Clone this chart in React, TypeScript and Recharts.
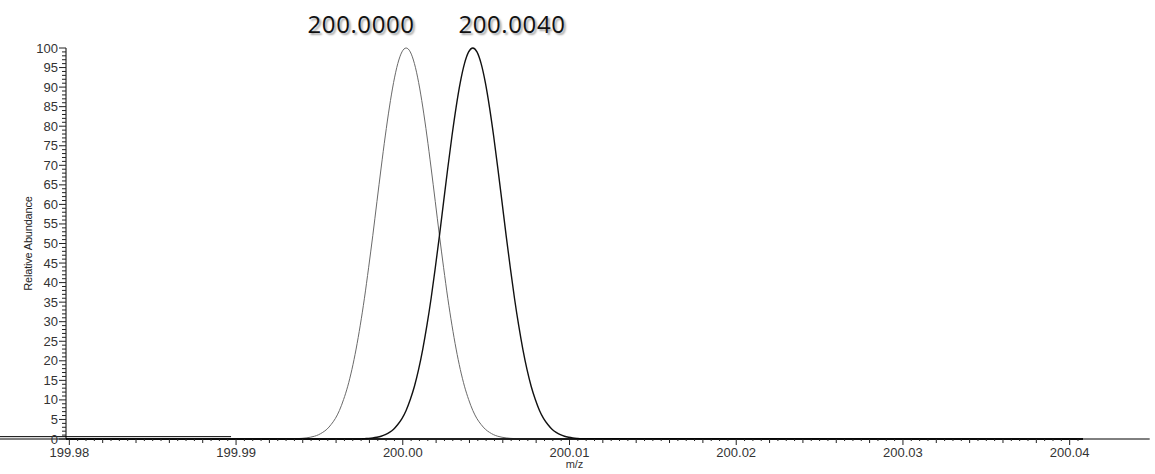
import { LineChart, Line, XAxis, YAxis, ReferenceLine, ReferenceDot } from "recharts";

// m/z sampling points read across the two peaks (outer points are baseline)
const mz = [
  199.9798,
  199.9937, 199.99395, 199.9942, 199.99445, 199.9947, 199.99495, 199.9952, 199.99545,
  199.9957, 199.99595, 199.9962, 199.99645, 199.9967, 199.99695, 199.9972, 199.99745,
  199.9977, 199.99795, 199.9982, 199.99845, 199.9987, 199.99895, 199.9992, 199.99945,
  199.9997, 199.99995, 200.0002, 200.00045, 200.0007, 200.00095, 200.0012, 200.00145,
  200.0017, 200.00195, 200.0022, 200.00245, 200.0027, 200.00295, 200.0032, 200.00345,
  200.0037, 200.00395, 200.0042, 200.00445, 200.0047, 200.00495, 200.0052, 200.00545,
  200.0057, 200.00595, 200.0062, 200.00645, 200.0067, 200.00695, 200.0072, 200.00745,
  200.0077, 200.00795, 200.0082, 200.00845, 200.0087, 200.00895, 200.0092, 200.00945,
  200.0097, 200.00995, 200.0102, 200.01045, 200.0107,
  200.0408,
];

// relative abundance of the 200.0000 peak (grey trace)
const peakA = [
  0,
  0.1, 0.17, 0.28, 0.45, 0.7, 1.1, 1.7, 2.5, 3.7, 5.2, 7.3, 10.1, 13.5, 17.8, 23.0, 29.1,
  36.0, 43.8, 52.0, 60.7, 69.3, 77.5, 84.9, 91.2, 96.0, 99.0, 100, 99.0, 96.0, 91.2,
  84.9, 77.5, 69.3, 60.7, 52.0, 43.8, 36.0, 29.1, 23.0, 17.8, 13.5, 10.1, 7.3, 5.2,
  3.7, 2.5, 1.7, 1.1, 0.7, 0.45, 0.28, 0.17, 0.1,
  0, 0, 0, 0, 0, 0, 0, 0, 0, 0, 0, 0, 0, 0, 0, 0,
  0,
];

// relative abundance of the 200.0040 peak (black trace)
const peakB = [
  0,
  0, 0, 0, 0, 0, 0, 0, 0, 0, 0, 0, 0, 0, 0, 0, 0,
  0.1, 0.17, 0.28, 0.45, 0.7, 1.1, 1.7, 2.5, 3.7, 5.2, 7.3, 10.1, 13.5, 17.8, 23.0, 29.1,
  36.0, 43.8, 52.0, 60.7, 69.3, 77.5, 84.9, 91.2, 96.0, 99.0, 100, 99.0, 96.0, 91.2,
  84.9, 77.5, 69.3, 60.7, 52.0, 43.8, 36.0, 29.1, 23.0, 17.8, 13.5, 10.1, 7.3, 5.2,
  3.7, 2.5, 1.7, 1.1, 0.7, 0.45, 0.28, 0.17, 0.1,
  0,
];

const peakLabels = ["200.0000", "200.0040"];
const peakLabelMz = [199.9975, 200.00655];

const data = mz.map((m, i) => ({ mz: m, a: peakA[i], b: peakB[i] }));

const yTicks = Array.from({ length: 101 }, (_, i) => i);
const xTicks = Array.from({ length: 122 }, (_, i) => Math.round((199.98 + i * 0.0005) * 10000) / 10000);

const axisFont = '"Liberation Sans", Arial, sans-serif';

function XTick(props: any) {
  const { x, y, payload } = props;
  const step = Math.round(payload.value * 10000);
  const major = step % 100 === 0;
  const mid = step % 20 === 0;
  const len = major ? 6 : mid ? 4 : 2;
  return (
    <g>
      <line x1={x} x2={x} y1={y} y2={y + len} stroke="#222" strokeWidth={1} />
      {major && (
        <text x={x} y={y + 18} textAnchor="middle" fontSize={13} fill="#333" fontFamily={axisFont}>
          {payload.value.toFixed(2)}
        </text>
      )}
    </g>
  );
}

function YTick(props: any) {
  const { x, y, payload } = props;
  const major = payload.value % 5 === 0;
  const len = major ? 7 : 4;
  return (
    <g>
      <line x1={x - len} x2={x} y1={y} y2={y} stroke="#222" strokeWidth={1} />
      {major && (
        <text x={x - 8} y={y + 4.5} textAnchor="end" fontSize={13} fill="#333" fontFamily={axisFont}>
          {payload.value}
        </text>
      )}
    </g>
  );
}

function PeakLabel(props: any) {
  const { viewBox, value } = props;
  const cx = viewBox.x + viewBox.width / 2;
  const cy = viewBox.y + viewBox.height / 2;
  return (
    <text
      x={cx}
      y={cy + 8}
      textAnchor="middle"
      fontSize={24}
      letterSpacing={0.6}
      fill="#111"
      fontFamily='"Open Sans", "Noto Sans", sans-serif'
      style={{ textShadow: "2px 2px 2px rgba(0,0,0,0.35)" }}
    >
      {value}
    </text>
  );
}

export default function App() {
  return (
    <div style={{ width: 1155, height: 474, background: "#fff" }}>
      <style>{"body{margin:0}"}</style>
      <LineChart width={1155} height={474} data={data} margin={{ top: 48, right: 72, bottom: 0, left: 0 }}>
        <XAxis
          type="number"
          dataKey="mz"
          domain={[199.9798, 200.0408]}
          allowDataOverflow
          ticks={xTicks}
          interval={0}
          tick={<XTick />}
          tickLine={false}
          tickSize={0}
          tickMargin={0}
          height={35}
          axisLine={{ stroke: "#000", strokeWidth: 1.5 }}
          label={{ value: "m/z", position: "insideBottom", offset: 6, fontSize: 11, fill: "#333", fontFamily: axisFont }}
        />
        <YAxis
          type="number"
          domain={[0, 100]}
          ticks={yTicks}
          interval={0}
          tick={<YTick />}
          tickLine={false}
          tickSize={0}
          tickMargin={0}
          width={66}
          axisLine={{ stroke: "#000", strokeWidth: 1 }}
          label={{
            value: "Relative Abundance",
            angle: -90,
            position: "center",
            dx: -5,
            fontSize: 11,
            fill: "#222",
            fontFamily: axisFont,
            letterSpacing: -0.2,
          }}
        />
        <ReferenceLine
          segment={[{ x: 199.9758, y: 0 }, { x: 200.0448, y: 0 }]}
          ifOverflow="visible"
          stroke="#000"
          strokeWidth={1}
        />
        <ReferenceLine
          segment={[{ x: 199.9758, y: 0.6 }, { x: 199.9897, y: 0.6 }]}
          ifOverflow="visible"
          stroke="#000"
          strokeWidth={1}
        />
        <Line
          type="monotone"
          dataKey="a"
          stroke="#6a6a6a"
          strokeWidth={1}
          dot={false}
          isAnimationActive={false}
        />
        <Line
          type="monotone"
          dataKey="b"
          stroke="#111"
          strokeWidth={1.4}
          dot={false}
          isAnimationActive={false}
        />
        {peakLabels.map((t, i) => (
          <ReferenceDot
            key={t}
            x={peakLabelMz[i]}
            y={105.9}
            r={0}
            ifOverflow="visible"
            label={<PeakLabel value={t} />}
          />
        ))}
      </LineChart>
    </div>
  );
}
